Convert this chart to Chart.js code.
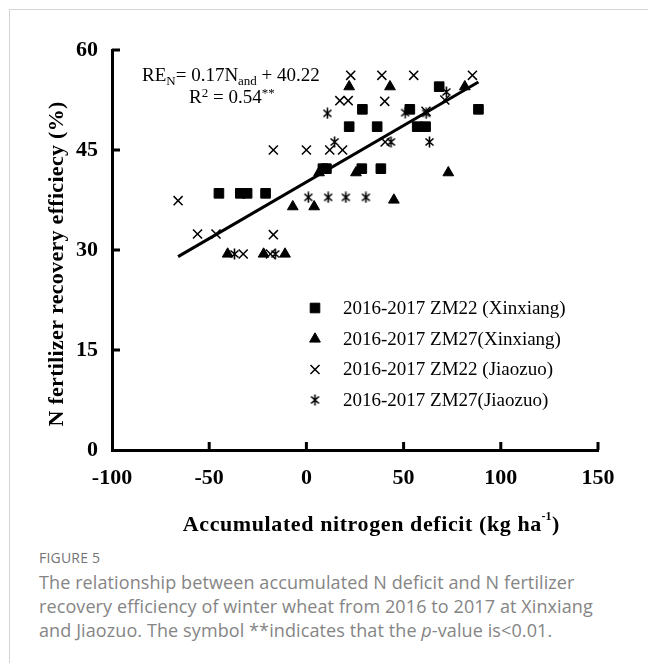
<!DOCTYPE html>
<html>
<head>
<meta charset="utf-8">
<script src="https://cdn.jsdelivr.net/npm/chart.js@4.4.1/dist/chart.umd.min.js"></script>
<style>
  body { margin: 0; background: #fff; width: 648px; height: 663px; overflow: hidden; position: relative; }
  #frame { position: absolute; left: 9px; top: 9px; width: 700px; height: 700px; border-left: 1px solid #d4d4d4; border-top: 1px solid #d4d4d4; }
  #wrap { position: absolute; left: 0; top: 0; width: 648px; height: 545px; }
  #figlabel { position: absolute; left: 39px; top: 548px; font: 14px "Open Sans", sans-serif; color: #747474; letter-spacing: 0.2px; }
  #caption { position: absolute; left: 39px; top: 570px; font: 18px "Open Sans", sans-serif; line-height: 24px; color: #858585; white-space: nowrap; letter-spacing: 0.1px; }
</style>
</head>
<body>
<div id="frame"></div>
<div id="wrap"><canvas id="recChart" width="648" height="545"></canvas></div>
<div id="figlabel">FIGURE 5</div>
<div id="caption">The relationship between accumulated N deficit and N fertilizer<br>recovery efficiency of winter wheat from 2016 to 2017 at Xinxiang<br>and Jiaozuo. The symbol **indicates that the <i>p</i>-value is&lt;0.01.</div>
<script>
// values
const squareX = [-45, -34, -30.5, -21, 8.5, 10.3, 28.5, 38.3, 22, 36.4, 57, 61.3, 28.8, 53.2, 68.3, 88.5];
const squareY = [38.5, 38.5, 38.5, 38.5, 42.2, 42.2, 42.2, 42.2, 48.5, 48.5, 48.5, 48.5, 51.1, 51.1, 54.5, 51.1];

const triX = [-40.5, -22, -11, -7, 4, 6.5, 25.5, 45, 73, 22, 43, 81.5];
const triY = [29.4, 29.4, 29.4, 36.5, 36.5, 41.6, 41.6, 37.5, 41.6, 54.5, 54.5, 54.5];

const crossX = [-66, -56, -46.5, -17, -32.5, -18.5, -17, 0, 12, 18.6, 40.5, 17.2, 21.5, 40.3, 71.2, 61.5, 22.8, 38.8, 55.2, 85.4];
const crossY = [37.4, 32.4, 32.4, 32.3, 29.4, 29.4, 45, 45, 45, 45, 46.2, 52.4, 52.4, 52.3, 52.5, 50.8, 56.2, 56.2, 56.2, 56.2];

const starX = [-37, -16, 1, 11.2, 20.3, 30.6, 14.5, 10.8, 43.5, 63.3, 50.8, 61.6, 72];
const starY = [29.4, 29.4, 37.9, 37.9, 37.9, 37.9, 46.2, 50.5, 46.2, 46.2, 50.6, 50.5, 53.7];

const fitX = [-66, 88.5];
const fitY = [29.0, 55.2];

const seriesNames = [
    '2016-2017 ZM22 (Xinxiang)',
    '2016-2017 ZM27(Xinxiang)',
    '2016-2017 ZM22 (Jiaozuo)',
    '2016-2017 ZM27(Jiaozuo)'
];

const xTicks = [-100, -50, 0, 50, 100, 150];
const yTicks = [0, 15, 30, 45, 60];

function pairs(xs, ys) {
    return xs.map((x, i) => ({ x: x, y: ys[i] }));
}

// asterisk marker: vertical bar plus an x
function makeStar() {
    const c = document.createElement('canvas');
    c.width = 11;
    c.height = 12;
    const g = c.getContext('2d');
    g.strokeStyle = '#000';
    g.lineWidth = 1.6;
    g.beginPath();
    g.moveTo(5.5, 0.5); g.lineTo(5.5, 11.5);
    g.moveTo(1.5, 2.5); g.lineTo(9.5, 9.5);
    g.moveTo(9.5, 2.5); g.lineTo(1.5, 9.5);
    g.stroke();
    return c;
}
const starImg = makeStar();

const SERIF = '"Liberation Serif", "Times New Roman", serif';

const markerStyles = [
    { pointStyle: 'rect', radius: 6.8, borderWidth: 1 },
    { pointStyle: 'triangle', radius: 6.2, borderWidth: 1 },
    { pointStyle: 'crossRot', radius: 6.4, borderWidth: 1.5 },
    { pointStyle: starImg, radius: 6, borderWidth: 0 }
];

const decorPlugin = {
    id: 'decor',
    afterDraw(chart) {
        const ctx = chart.ctx;
        const xs = chart.scales.x;
        const ys = chart.scales.y;
        const area = chart.chartArea;
        ctx.save();

        // inward tick marks
        ctx.strokeStyle = '#000';
        ctx.lineWidth = 3;
        ctx.beginPath();
        xTicks.slice(1).forEach(v => {
            const px = xs.getPixelForValue(v);
            ctx.moveTo(px, area.bottom);
            ctx.lineTo(px, area.bottom - 8);
        });
        yTicks.slice(1).forEach(v => {
            const py = ys.getPixelForValue(v);
            ctx.moveTo(area.left, py);
            ctx.lineTo(area.left + 8, py);
        });
        ctx.stroke();

        // equation
        ctx.fillStyle = '#000';
        ctx.textBaseline = 'alphabetic';
        ctx.textAlign = 'left';
        let x = 142;
        const b1 = 81;
        const parts1 = [['RE', 0], ['N', 1], ['= 0.17N', 0], ['and', 1], [' + 40.22', 0]];
        parts1.forEach(p => {
            ctx.font = (p[1] ? '13px ' : '19px ') + SERIF;
            ctx.fillText(p[0], x, b1 + (p[1] ? 4 : 0));
            x += ctx.measureText(p[0]).width;
        });
        x = 189;
        const b2 = 103;
        const parts2 = [['R', 0], ['2', 2], [' = 0.54', 0], ['**', 2]];
        parts2.forEach(p => {
            ctx.font = (p[1] ? '13px ' : '19px ') + SERIF;
            ctx.fillText(p[0], x, b2 - (p[1] ? 6 : 0));
            x += ctx.measureText(p[0]).width;
        });

        // legend inside plot
        const rowsY = [308, 339, 369.5, 400];
        ctx.font = '19px ' + SERIF;
        ctx.textBaseline = 'middle';
        seriesNames.forEach((name, i) => {
            const m = markerStyles[i];
            ctx.fillStyle = '#000';
            ctx.strokeStyle = '#000';
            ctx.lineWidth = m.borderWidth;
            Chart.helpers.drawPoint(ctx, { pointStyle: m.pointStyle, radius: m.radius, rotation: 0, borderWidth: m.borderWidth }, 315, rowsY[i]);
            ctx.fillStyle = '#000';
            ctx.fillText(name, 343, rowsY[i] + 1);
        });

        // axis titles
        ctx.font = 'bold 22px ' + SERIF;
        ctx.letterSpacing = '0.6px';
        const main = 'Accumulated nitrogen deficit (kg ha';
        const w = ctx.measureText(main).width;
        ctx.letterSpacing = '0px';
        ctx.font = 'bold 12px ' + SERIF;
        const w2 = ctx.measureText('-1').width;
        ctx.font = 'bold 22px ' + SERIF;
        const w3 = ctx.measureText(')').width;
        const sx0 = 371 - (w + w2 + w3) / 2;
        ctx.textAlign = 'left';
        ctx.letterSpacing = '0.6px';
        ctx.fillText(main, sx0, 525);
        ctx.letterSpacing = '0px';
        ctx.font = 'bold 12px ' + SERIF;
        ctx.fillText('-1', sx0 + w - 0.5, 517);
        ctx.font = 'bold 22px ' + SERIF;
        ctx.fillText(')', sx0 + w + w2, 525);

        ctx.letterSpacing = '0.3px';
        ctx.translate(57, 264);
        ctx.rotate(-Math.PI / 2);
        ctx.textAlign = 'center';
        ctx.textBaseline = 'middle';
        ctx.fillText('N fertilizer recovery efficiecy (%)', 0, 0);
        ctx.restore();
    }
};

const ctx = document.getElementById('recChart').getContext('2d');
new Chart(ctx, {
    type: 'scatter',
    data: {
        datasets: [
            {
                label: seriesNames[0],
                data: pairs(squareX, squareY),
                pointStyle: 'rect',
                pointRadius: 6.8,
                backgroundColor: '#000',
                borderColor: '#000',
                borderWidth: 1
            },
            {
                label: seriesNames[1],
                data: pairs(triX, triY),
                pointStyle: 'triangle',
                pointRadius: 6.2,
                backgroundColor: '#000',
                borderColor: '#000',
                borderWidth: 1
            },
            {
                label: seriesNames[2],
                data: pairs(crossX, crossY),
                pointStyle: 'crossRot',
                pointRadius: 6.4,
                backgroundColor: '#000',
                borderColor: '#000',
                borderWidth: 1.5
            },
            {
                label: seriesNames[3],
                data: pairs(starX, starY),
                pointStyle: starImg,
                pointRadius: 6,
                borderWidth: 0
            },
            {
                type: 'line',
                label: 'fit',
                data: pairs(fitX, fitY),
                borderColor: '#000',
                borderWidth: 3,
                pointRadius: 0,
                fill: false
            }
        ]
    },
    options: {
        responsive: false,
        animation: false,
        layout: {
            padding: { left: 0, top: 50, right: 50, bottom: 0 }
        },
        scales: {
            x: {
                type: 'linear',
                min: -100,
                max: 150,
                afterFit: s => { s.height = 95; },
                afterBuildTicks: s => { s.ticks = xTicks.map(v => ({ value: v })); },
                grid: { display: false, drawTicks: false },
                border: { display: true, color: '#000', width: 3 },
                ticks: {
                    color: '#000',
                    padding: 15,
                    maxRotation: 0,
                    font: { family: SERIF, size: 22, weight: 'bold' }
                }
            },
            y: {
                type: 'linear',
                min: 0,
                max: 60,
                afterFit: s => { s.width = 112; },
                afterBuildTicks: s => { s.ticks = yTicks.map(v => ({ value: v })); },
                grid: { display: false, drawTicks: false },
                border: { display: true, color: '#000', width: 3 },
                ticks: {
                    color: '#000',
                    padding: 14,
                    font: { family: SERIF, size: 22, weight: 'bold' }
                }
            }
        },
        plugins: {
            legend: { display: false },
            tooltip: { enabled: false }
        }
    },
    plugins: [decorPlugin]
});
</script>
</body>
</html>
